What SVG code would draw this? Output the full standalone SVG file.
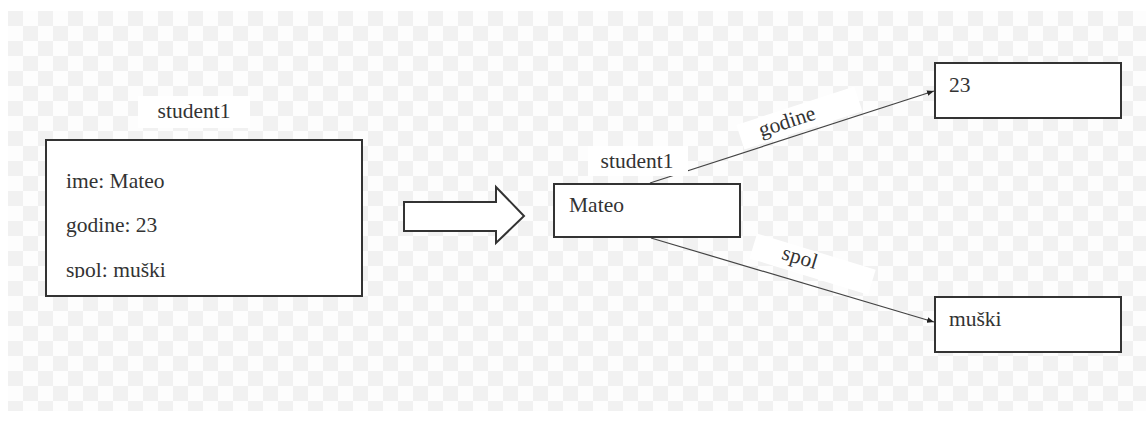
<svg xmlns="http://www.w3.org/2000/svg" width="1146" height="421" viewBox="0 0 1146 421">
<defs>
<pattern id="chk" x="8" y="11" width="30" height="30" patternUnits="userSpaceOnUse">
<rect width="30" height="30" fill="#fdfdfd"/>
<rect width="15" height="15" fill="#f1f1f1"/>
<rect x="15" y="15" width="15" height="15" fill="#f1f1f1"/>
</pattern>
<marker id="ah" viewBox="0 0 10 10" refX="10" refY="5" markerWidth="7" markerHeight="7" orient="auto" markerUnits="userSpaceOnUse">
<path d="M0,1 L10,5 L0,9 Z" fill="#222"/>
</marker>
<clipPath id="clipL"><rect x="46" y="140" width="316" height="138"/></clipPath>
</defs>
<style>
.box{fill:#fff;stroke:#333;stroke-width:2}
.t{font-family:"Liberation Serif","DejaVu Serif",serif;font-size:21.5px;fill:#333}
.lbl{fill:#fff}
.edge{stroke:#444;stroke-width:1.2;fill:none;marker-end:url(#ah)}
</style>
<rect width="1146" height="421" fill="#fff"/>
<rect x="8" y="11" width="1138" height="400" fill="url(#chk)"/>

<g id="left-object">
<rect class="lbl" x="138" y="96" width="112" height="32"/>
<text class="t" x="194" y="118" text-anchor="middle">student1</text>
<rect class="box" x="46" y="140" width="316" height="156"/>
<g clip-path="url(#clipL)">
<text class="t" x="66" y="188">ime: Mateo</text>
<text class="t" x="66" y="232">godine: 23</text>
<text class="t" x="66" y="277">spol: muški</text>
</g>
</g>

<g id="transform-arrow">
<path d="M404,202 L496,202 L496,187 L524,216 L496,243 L496,231 L404,231 Z" fill="#fff" stroke="#333" stroke-width="2" stroke-linejoin="miter"/>
</g>

<g id="connectors">
<rect class="lbl" x="-62" y="-15" width="124" height="26" transform="translate(800,120) rotate(-18)"/>
<rect class="lbl" x="-62" y="-15" width="124" height="26" transform="translate(812,266) rotate(17)"/>
<line class="edge" x1="650" y1="183" x2="934" y2="91"/>
<line class="edge" x1="651" y1="238" x2="934" y2="322"/>
<text class="t" transform="translate(789,128) rotate(-18)" text-anchor="middle">godine</text>
<text class="t" transform="translate(798,264) rotate(17)" text-anchor="middle">spol</text>
</g>

<g id="node-student1">
<rect class="lbl" x="588" y="146" width="100" height="30"/>
<text class="t" x="637" y="168" text-anchor="middle">student1</text>
<rect class="box" x="554" y="184" width="186" height="53"/>
<text class="t" x="569" y="212">Mateo</text>
</g>

<g id="node-23">
<rect class="box" x="935" y="63" width="186" height="55"/>
<text class="t" x="949" y="92">23</text>
</g>

<g id="node-muski">
<rect class="box" x="935" y="297" width="186" height="55"/>
<text class="t" x="949" y="326">muški</text>
</g>
</svg>
